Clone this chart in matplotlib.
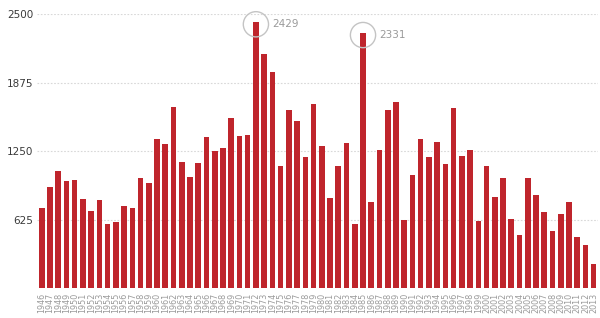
import matplotlib
matplotlib.use("Agg")
import matplotlib.pyplot as plt
import numpy as np

# yearly counts, 1946-2013
years = list(range(1946, 2014))
values = [
    737, 923, 1072, 984, 993, 817, 710, 807, 588, 604,          # 1946-1955
    750, 732, 1008, 963, 1361, 1318, 1659, 1151, 1014, 1142,    # 1956-1965
    1385, 1257, 1285, 1556, 1394, 1398, 2429, 2136, 1978, 1120, # 1966-1975
    1629, 1531, 1197, 1681, 1303, 828, 1118, 1325, 586, 2331,   # 1976-1985
    792, 1266, 1631, 1699, 625, 1038, 1361, 1203, 1339, 1133,   # 1986-1995
    1644, 1209, 1266, 619, 1115, 835, 1011, 631, 485, 1011,     # 1996-2005
    850, 695, 522, 677, 792, 473, 397, 224,                     # 2006-2013
]
highlight_years = [1972, 1985]
yticks = [625, 1250, 1875, 2500]

BAR = "#bf252c"

fig = plt.figure(figsize=(6.0, 3.18), dpi=100)
ax = fig.add_axes([0.062, 0.093, 0.935, 0.862])

x = np.arange(len(years))
ax.bar(x, values, width=0.68, color=BAR, zorder=2)

ax.set_xlim(-0.55, len(years) - 0.45)
ax.set_ylim(0, 2500)
ax.set_yticks(yticks)
ax.set_yticklabels([str(v) for v in yticks], fontsize=7.5, color="#3a3a3a",
                   fontweight="medium")
ax.set_xticks(x)
ax.set_xticklabels([str(y) for y in years], rotation=90, fontsize=5.8,
                   color="#9a9a9a")
ax.tick_params(length=0, pad=3)
for s in ax.spines.values():
    s.set_visible(False)
ax.grid(True, axis="y", color="#d8d8d8", linestyle=(0, (1.5, 1.5)), lw=0.8, zorder=0)

for yr in highlight_years:
    i = years.index(yr)
    v = values[i]
    ax.scatter([i], [v - 20], s=330, facecolors="none", edgecolors="#c4c4c4",
               linewidths=1.0, zorder=3, clip_on=False)
    ax.annotate(str(v), (i, v - 20), xytext=(11.5, 0), textcoords="offset points",
                va="center", ha="left", fontsize=7.5, color="#9a9a9a")

fig.savefig("out.png", dpi=100, facecolor="white")
